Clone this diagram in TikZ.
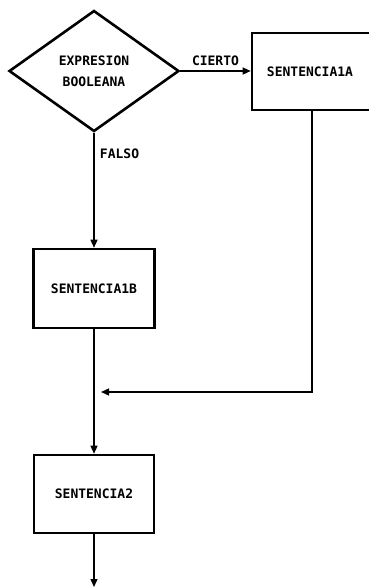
\documentclass[tikz,border=0pt]{standalone}
\usepackage{fontspec}
\newfontfamily\dotfont{DejaVu Sans Mono}
\usetikzlibrary{shapes.geometric,arrows.meta}
\begin{document}
\begin{tikzpicture}[x=1pt,y=-1pt,
  lbl/.style={font=\dotfont\bfseries\fontsize{13}{21}\selectfont},
  stmt/.style={draw,line width=2.6pt,rectangle,inner sep=0pt,lbl},
  dec/.style={draw,line width=2.6pt,diamond,inner sep=0pt,lbl,align=center},
  conn/.style={line width=1.3pt,-{Triangle[length=8pt,width=7pt]}},
  plain/.style={line width=1.3pt}]
\useasboundingbox (0,0) rectangle (368,587);
\node[dec,minimum width=170pt,minimum height=121pt] (d) at (94,71) {EXPRESION\\BOOLEANA};
\node[stmt,minimum width=126pt,minimum height=77pt] (a) at (315,71.5) {\hspace*{-10pt}SENTENCIA1A};
\node[stmt,minimum width=121pt,minimum height=79pt] (b) at (94,288.5) {SENTENCIA1B};
\node[stmt,minimum width=120pt,minimum height=78pt] (c) at (94,494) {SENTENCIA2};
\coordinate (mergeR) at (101,392);
\coordinate (fin) at (94,587);
\draw[conn] (d.east) -- node[lbl,above=1pt] {CIERTO} (d.east -| a.west);
\draw[conn] (d.south) -- node[lbl,pos=0.18,right=2pt] {FALSO} (b.north);
\draw[conn] (a.south -| 312,0) |- (mergeR);
\draw[conn] (b.south) -- (c.north);
\draw[conn] (c.south) -- (fin);
\end{tikzpicture}
\end{document}
